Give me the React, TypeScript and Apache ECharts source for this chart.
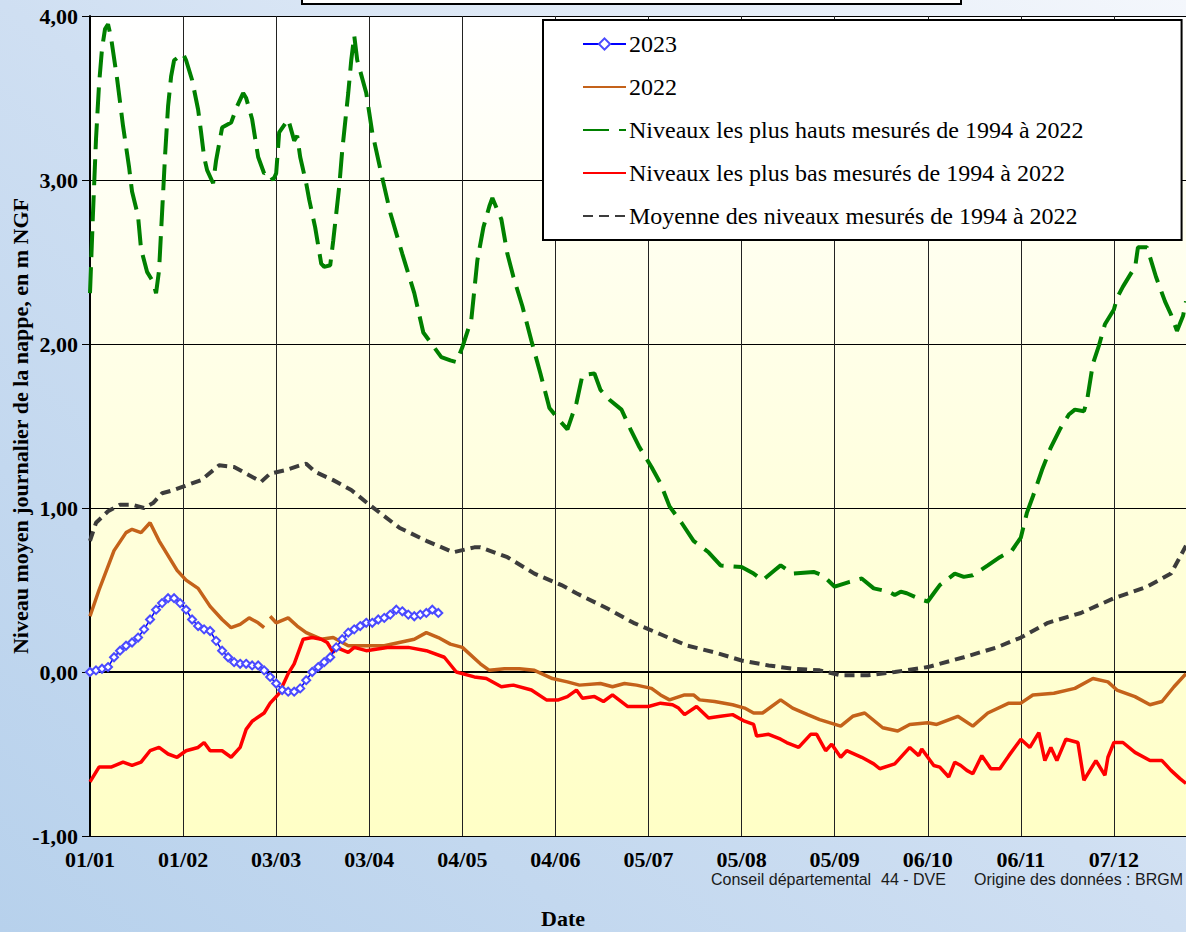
import React, { useEffect, useRef } from 'react';
import * as echarts from 'echarts';

// x = day of year (0 = 01/01), y = level in m NGF
const xTickLabels = ['01/01', '01/02', '03/03', '03/04', '04/05', '04/06', '05/07', '05/08', '05/09', '06/10', '06/11', '07/12'];

const seriesNames = [
  '2023',
  '2022',
  'Niveaux les plus hauts mesurés de 1994 à 2022',
  'Niveaux les plus bas mesurés de 1994 à 2022',
  'Moyenne des niveaux mesurés de 1994 à 2022',
];

const level2023: [number, number][] = [
  [0, 0.0], [2, 0.01], [4, 0.02], [6, 0.03], [8, 0.09], [10, 0.13], [12, 0.16], [14, 0.18], [16, 0.21], [18, 0.26],
  [20, 0.32], [22, 0.38], [24, 0.42], [26, 0.45], [28, 0.45], [30, 0.42], [32, 0.38], [34, 0.32], [36, 0.28], [38, 0.26],
  [40, 0.25], [42, 0.19], [44, 0.13], [46, 0.09], [48, 0.06], [50, 0.05], [52, 0.05], [54, 0.04], [56, 0.04], [58, 0.01],
  [60, -0.03], [62, -0.07], [64, -0.11], [66, -0.12], [68, -0.12], [70, -0.1], [72, -0.05], [74, 0.0], [76, 0.03], [78, 0.06],
  [80, 0.09], [82, 0.15], [84, 0.2], [86, 0.24], [88, 0.26], [90, 0.28], [92, 0.3], [94, 0.3], [96, 0.32], [98, 0.33],
  [100, 0.35], [102, 0.38], [104, 0.37], [106, 0.35], [108, 0.34], [110, 0.35], [112, 0.36], [114, 0.38], [116, 0.36],
];

const level2022: [number, number | string][] = [
  [0, 0.34], [3, 0.5], [8, 0.74], [12, 0.85], [14, 0.87], [17, 0.85], [20, 0.91], [23, 0.8], [29, 0.62], [32, 0.56],
  [36, 0.51], [40, 0.4], [44, 0.32], [47, 0.27], [50, 0.29], [53, 0.33], [56, 0.3], [58, 0.27], [59, '-'], [60, 0.34],
  [62, 0.3], [66, 0.33], [69, 0.28], [72, 0.24], [77, 0.2], [81, 0.21], [86, 0.16], [92, 0.16], [98, 0.16], [103, 0.18],
  [108, 0.2], [112, 0.24], [116, 0.21], [120, 0.17], [124, 0.15], [130, 0.05], [133, 0.01], [138, 0.02], [143, 0.02], [148, 0.01],
  [154, -0.04], [159, -0.06], [163, -0.08], [170, -0.07], [174, -0.09], [178, -0.07], [182, -0.08], [187, -0.1], [190, -0.14], [193, -0.17],
  [198, -0.14], [201, -0.14], [203, -0.17], [208, -0.18], [214, -0.2], [218, -0.22], [221, -0.25], [224, -0.25], [230, -0.17], [234, -0.22],
  [239, -0.26], [243, -0.29], [250, -0.33], [254, -0.27], [258, -0.25], [264, -0.34], [269, -0.36], [273, -0.32], [279, -0.31], [282, -0.32],
  [289, -0.27], [294, -0.33], [299, -0.25], [306, -0.19], [310, -0.19], [314, -0.14], [321, -0.13], [328, -0.1], [334, -0.04], [339, -0.06],
  [342, -0.11], [348, -0.15], [353, -0.2], [357, -0.18], [361, -0.09], [365, -0.01],
];

const levelHigh: [number, number][] = [
  [0, 2.31], [1, 2.8], [2, 3.25], [3, 3.58], [4, 3.8], [5, 3.92], [6, 3.95], [7, 3.87], [9, 3.62], [11, 3.33],
  [13, 3.08], [14, 2.93], [16, 2.78], [17, 2.58], [19, 2.44], [21, 2.38], [22, 2.31], [23, 2.45], [24, 2.8], [25, 3.15],
  [26, 3.45], [27, 3.63], [28, 3.73], [31, 3.77], [32, 3.73], [34, 3.61], [36, 3.43], [37, 3.29], [38, 3.14], [39, 3.06],
  [41, 2.98], [42, 3.12], [44, 3.32], [47, 3.35], [49, 3.45], [51, 3.53], [52, 3.5], [54, 3.37], [56, 3.14], [58, 3.04],
  [59, 3.05], [61, 3.0], [62, 3.04], [63, 3.29], [66, 3.37], [68, 3.24], [69, 3.27], [70, 3.14], [72, 2.98], [73, 2.88],
  [75, 2.71], [77, 2.49], [78, 2.47], [80, 2.48], [81, 2.63], [83, 2.96], [84, 3.18], [86, 3.53], [87, 3.73], [88, 3.88],
  [89, 3.73], [92, 3.53], [94, 3.29], [97, 3.04], [100, 2.8], [104, 2.55], [108, 2.31], [111, 2.07], [113, 2.02], [117, 1.92],
  [120, 1.9], [122, 1.89], [124, 1.98], [127, 2.15], [129, 2.51], [131, 2.71], [133, 2.84], [134, 2.89], [137, 2.76], [139, 2.55],
  [141, 2.41], [144, 2.23], [147, 2.02], [150, 1.82], [153, 1.61], [157, 1.52], [159, 1.48], [162, 1.64], [164, 1.81], [168, 1.82],
  [170, 1.72], [173, 1.66], [177, 1.6], [180, 1.48], [183, 1.37], [187, 1.25], [190, 1.15], [193, 1.01], [197, 0.91], [201, 0.8],
  [206, 0.73], [210, 0.65], [217, 0.64], [221, 0.6], [224, 0.56], [228, 0.62], [230, 0.65], [234, 0.6], [241, 0.61], [244, 0.59],
  [248, 0.52], [253, 0.55], [257, 0.57], [261, 0.51], [266, 0.49], [268, 0.47], [270, 0.49], [272, 0.48], [277, 0.44], [279, 0.43],
  [281, 0.48], [283, 0.53], [288, 0.6], [291, 0.58], [294, 0.59], [299, 0.65], [303, 0.7], [307, 0.74], [310, 0.82], [312, 0.97],
  [314, 1.07], [317, 1.23], [320, 1.37], [323, 1.48], [326, 1.57], [328, 1.6], [331, 1.59], [332, 1.65], [334, 1.88], [336, 1.99],
  [338, 2.12], [341, 2.21], [342, 2.28], [344, 2.35], [347, 2.44], [348, 2.46], [349, 2.59], [352, 2.59], [353, 2.53], [355, 2.41],
  [358, 2.26], [360, 2.18], [362, 2.08], [364, 2.17], [365, 2.26],
];

const levelLow: [number, number][] = [
  [0, -0.67], [3, -0.58], [7, -0.58], [11, -0.55], [14, -0.57], [17, -0.55], [20, -0.48], [23, -0.46], [26, -0.5], [29, -0.52],
  [32, -0.48], [36, -0.46], [38, -0.43], [40, -0.48], [44, -0.48], [47, -0.52], [50, -0.46], [52, -0.35], [54, -0.3], [58, -0.25],
  [60, -0.19], [63, -0.13], [66, -0.01], [68, 0.05], [70, 0.15], [71, 0.2], [74, 0.21], [77, 0.2], [79, 0.18], [81, 0.12],
  [82, 0.15], [86, 0.12], [88, 0.15], [92, 0.13], [99, 0.15], [106, 0.15], [112, 0.13], [118, 0.09], [122, 0.0], [128, -0.03],
  [132, -0.04], [137, -0.09], [141, -0.08], [147, -0.11], [152, -0.17], [156, -0.17], [159, -0.15], [162, -0.11], [164, -0.16], [168, -0.15],
  [171, -0.18], [174, -0.14], [179, -0.21], [186, -0.21], [190, -0.19], [194, -0.2], [196, -0.22], [198, -0.26], [202, -0.21], [206, -0.28],
  [210, -0.27], [214, -0.26], [218, -0.3], [221, -0.32], [222, -0.39], [226, -0.38], [230, -0.41], [232, -0.43], [236, -0.46], [240, -0.38],
  [242, -0.38], [245, -0.48], [247, -0.44], [250, -0.52], [252, -0.48], [257, -0.52], [261, -0.56], [263, -0.59], [268, -0.56], [273, -0.46],
  [276, -0.51], [277, -0.47], [281, -0.57], [283, -0.58], [286, -0.64], [288, -0.55], [290, -0.57], [292, -0.6], [294, -0.62], [297, -0.51],
  [300, -0.59], [303, -0.59], [306, -0.51], [310, -0.41], [313, -0.46], [316, -0.37], [318, -0.54], [320, -0.46], [322, -0.54], [325, -0.41],
  [329, -0.43], [331, -0.66], [335, -0.54], [338, -0.63], [339, -0.52], [341, -0.43], [344, -0.43], [348, -0.49], [353, -0.54], [357, -0.54],
  [360, -0.6], [363, -0.65], [365, -0.68],
];

const levelMean: [number, number][] = [
  [0, 0.8], [2, 0.91], [6, 0.98], [10, 1.02], [14, 1.02], [18, 1.0], [21, 1.03], [24, 1.09], [28, 1.11], [31, 1.13],
  [37, 1.17], [43, 1.26], [48, 1.25], [55, 1.18], [57, 1.16], [60, 1.21], [65, 1.23], [70, 1.26], [72, 1.27], [75, 1.22],
  [81, 1.17], [87, 1.11], [93, 1.02], [103, 0.88], [112, 0.8], [121, 0.73], [128, 0.76], [130, 0.76], [139, 0.7], [148, 0.6],
  [157, 0.53], [162, 0.48], [172, 0.39], [181, 0.3], [190, 0.23], [199, 0.16], [208, 0.12], [217, 0.07], [226, 0.04], [234, 0.02],
  [243, 0.01], [250, -0.02], [259, -0.02], [268, 0.0], [279, 0.03], [291, 0.09], [302, 0.15], [310, 0.21], [319, 0.3], [330, 0.36],
  [341, 0.45], [352, 0.52], [360, 0.6], [365, 0.77],
];

const SERIF = '"Liberation Serif", "Times New Roman", serif';
const SANS = '"Liberation Sans", Arial, sans-serif';

export default function App() {
  const ref = useRef<HTMLDivElement>(null);

  useEffect(() => {
    if (!ref.current) return;
    const chart = echarts.init(ref.current, null, { renderer: 'svg' });
    const hideSymbol = { opacity: 0 };
    const footerStyle = { fontFamily: SANS, fontSize: 16, fill: '#1a1a1a', align: 'left', verticalAlign: 'middle' };
    chart.setOption({
      animation: false,
      backgroundColor: {
        type: 'linear', x: 1, y: 0, x2: 0, y2: 1,
        colorStops: [
          { offset: 0, color: '#F4F7FC' },
          { offset: 0.5, color: '#CFDFF2' },
          { offset: 1, color: '#B7D1EC' },
        ],
      },
      grid: {
        left: 90, right: 0, top: 16, bottom: 96,
        containLabel: false,
        outerBoundsMode: 'none',
        show: true, borderWidth: 0,
        backgroundColor: {
          type: 'linear', x: 0, y: 0, x2: 0, y2: 1,
          colorStops: [
            { offset: 0, color: '#FFFFFF' },
            { offset: 1, color: '#FFFFC6' },
          ],
        },
      },
      legend: {
        orient: 'vertical',
        left: 543, top: 20,
        padding: [12, 98, 12, 39],
        itemWidth: 43, itemHeight: 14, itemGap: 19,
        backgroundColor: '#FFFFFF',
        borderColor: '#000000', borderWidth: 2,
        textStyle: { fontFamily: SERIF, fontSize: 24, color: '#000', padding: [0, 0, 0, -2] },
        data: [
          { name: seriesNames[0] },
          { name: seriesNames[1], itemStyle: hideSymbol },
          { name: seriesNames[2], itemStyle: hideSymbol },
          { name: seriesNames[3], itemStyle: hideSymbol },
          { name: seriesNames[4], itemStyle: hideSymbol },
        ],
      },
      xAxis: {
        type: 'value', min: 0, max: 365, interval: 31,
        axisLine: { show: true, lineStyle: { color: '#000', width: 2 } },
        axisTick: { show: true, length: 8, lineStyle: { color: '#000', width: 1 } },
        splitLine: { show: true, lineStyle: { color: '#222', width: 1 } },
        axisLabel: {
          margin: 12,
          fontFamily: SERIF, fontWeight: 'bold', fontSize: 22, color: '#000',
          formatter: (v: number) => (v % 31 === 0 ? xTickLabels[v / 31] ?? '' : ''),
        },
      },
      yAxis: {
        type: 'value', min: -1, max: 4, interval: 1,
        name: 'Niveau moyen journalier de la nappe, en m NGF',
        nameLocation: 'middle', nameGap: 59, nameRotate: 90,
        nameMoveOverlap: false,
        nameTextStyle: { fontFamily: SERIF, fontWeight: 'bold', fontSize: 22, color: '#000' },
        axisLine: { show: true, lineStyle: { color: '#000', width: 2 } },
        axisTick: { show: true, length: 8, lineStyle: { color: '#000', width: 1 } },
        splitLine: { show: true, lineStyle: { color: '#000', width: 1 } },
        axisLabel: {
          margin: 12,
          fontFamily: SERIF, fontWeight: 'bold', fontSize: 22, color: '#000',
          formatter: (v: number) => v.toFixed(2).replace('.', ','),
        },
      },
      graphic: [
        {
          type: 'rect', left: 301, top: -10,
          shape: { width: 659, height: 13 },
          style: { fill: '#FFFFFF', stroke: '#000', lineWidth: 2 },
          z: 10,
        },
        {
          type: 'text', x: 563, y: 918,
          style: { text: 'Date', fontFamily: SERIF, fontWeight: 'bold', fontSize: 22, fill: '#000', align: 'center', verticalAlign: 'middle' },
        },
        { type: 'text', x: 711, y: 879, style: { ...footerStyle, text: 'Conseil départemental' } },
        { type: 'text', x: 881, y: 879, style: { ...footerStyle, text: '44 - DVE' } },
        { type: 'text', x: 974, y: 879, style: { ...footerStyle, text: 'Origine des données : BRGM' } },
      ],
      series: [
        {
          name: seriesNames[0], type: 'line', data: level2023, z: 6,
          symbol: 'emptyDiamond', symbolSize: 8, showSymbol: true,
          lineStyle: { color: '#0000FF', width: 1.5 },
          itemStyle: { color: '#4A4AFF', borderWidth: 1 },
        },
        {
          name: seriesNames[1], type: 'line', data: level2022, z: 4, symbol: 'none', connectNulls: false,
          lineStyle: { color: '#C4621A', width: 3.5 }, itemStyle: { color: '#C4621A' },
        },
        {
          name: seriesNames[2], type: 'line', data: levelHigh, z: 3, symbol: 'none',
          lineStyle: { color: '#008000', width: 4, type: [26, 10] }, itemStyle: { color: '#008000' },
        },
        {
          name: seriesNames[3], type: 'line', data: levelLow, z: 5, symbol: 'none',
          lineStyle: { color: '#FF0000', width: 3.5 }, itemStyle: { color: '#FF0000' },
        },
        {
          name: seriesNames[4], type: 'line', data: levelMean, z: 3, symbol: 'none',
          lineStyle: { color: '#3C3C3C', width: 4, type: [10, 6] }, itemStyle: { color: '#3C3C3C' },
        },
      ],
    });
    return () => chart.dispose();
  }, []);

  return <div ref={ref} style={{ position: 'fixed', left: 0, top: 0, width: 1186, height: 932 }} />;
}
